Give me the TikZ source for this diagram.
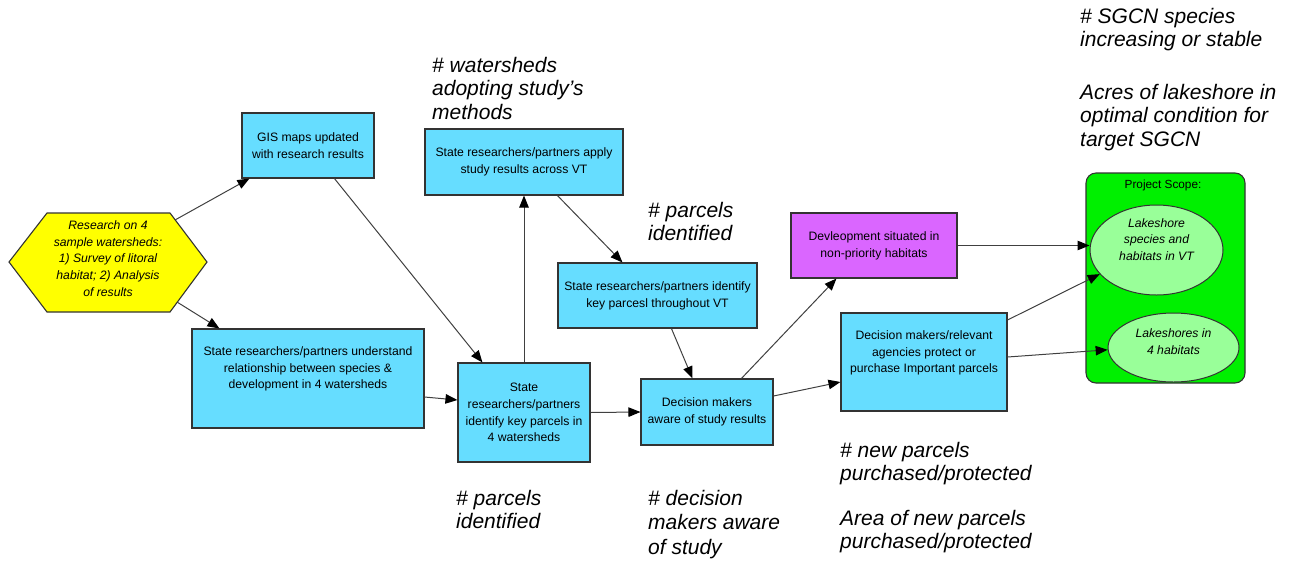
\documentclass[tikz,border=0pt]{standalone}
\usepackage{fontspec}
\setmainfont{Liberation Sans}
\usetikzlibrary{arrows.meta,shapes.geometric,calc}
\definecolor{boxblue}{HTML}{66DDFF}
\definecolor{boxpurple}{HTML}{DA66FF}
\definecolor{hexyellow}{HTML}{FFFF00}
\definecolor{scopegreen}{HTML}{00F000}
\definecolor{ellgreen}{HTML}{99FF99}
\definecolor{edgegray}{HTML}{333333}
\definecolor{linegray}{HTML}{404040}
\tikzset{
  boxfont/.style={font=\fontsize{12.2}{16.7}\selectfont},
  stdbox/.style={draw=edgegray, line width=1.1pt, fill=boxblue, inner sep=0pt, align=center, boxfont},
  purplebox/.style={stdbox, fill=boxpurple},
  ellnode/.style={ellipse, draw=edgegray, line width=1pt, fill=ellgreen, inner sep=0pt},
  inntext/.style={align=center, inner sep=0pt, boxfont},
  ittext/.style={align=center, inner sep=0pt, font=\fontsize{12.2}{16.7}\selectfont\itshape},
  metric/.style={align=left, anchor=north west, inner sep=0pt, font=\fontsize{21}{23.5}\selectfont\itshape},
  conn/.style={draw=linegray, line width=1pt, -{Triangle[length=12pt,width=9.5pt,color=black]}},
}
\begin{document}
\begin{tikzpicture}[x=1pt,y=-1pt]
\useasboundingbox (0,0) rectangle (1292,563);

% hexagon
\coordinate (hexL) at (9,262);
\coordinate (hexTL) at (47,213);
\coordinate (hexTR) at (170,213);
\coordinate (hexR) at (207,262);
\coordinate (hexBR) at (170,312);
\coordinate (hexBL) at (47,312);
\draw[draw=edgegray, line width=1.1pt, fill=hexyellow] (hexL) -- (hexTL) -- (hexTR) -- (hexR) -- (hexBR) -- (hexBL) -- cycle;
\node[ittext] (hex) at (108,258.5) {Research on 4\\sample watersheds:\\1) Survey of litoral\\habitat; 2) Analysis\\of results};
\coordinate (hexA) at (175,220);
\coordinate (hexB) at (177,302);

% boxes
\node[stdbox, minimum width=132pt, minimum height=65pt] (gis) at (308,145.5) {GIS maps updated\\with research results};
\node[stdbox, minimum width=198pt, minimum height=66pt] (apply) at (524,162) {State researchers/partners apply\\study results across VT};
\node[stdbox, minimum width=199pt, minimum height=65pt] (idvt) at (657.5,295.5) {State researchers/partners identify\\key parcesl throughout VT};
\node[stdbox, minimum width=132pt, minimum height=99pt] (idfour) at (524,412.5) {State\\researchers/partners\\identify key parcels in\\4 watersheds};
\node[stdbox, minimum width=132pt, minimum height=66pt] (aware) at (707,412) {Decision makers\\aware of study results};
\node[stdbox, minimum width=232pt, minimum height=99pt] (under) at (308,378.5) {};
\node[inntext] (underT) at (308,369) {State researchers/partners understand\\relationship between species \&\\development in 4 watersheds};
\node[purplebox, minimum width=166pt, minimum height=65pt] (purple) at (874,245.5) {Devleopment situated in\\non-priority habitats};
\node[stdbox, minimum width=166pt, minimum height=98pt] (protect) at (924,362) {};
\node[inntext] (protectT) at (924,353) {Decision makers/relevant\\agencies protect or\\purchase Important parcels};

% project scope
\node[draw=edgegray, line width=1.1pt, fill=scopegreen, rounded corners=10pt, minimum width=159pt, minimum height=210pt, inner sep=0pt] (scope) at (1165.5,278) {};
\node[inntext, font=\fontsize{11.8}{14}\selectfont] (scopeT) at (1163,185) {Project Scope:};
\node[ellnode, minimum width=133pt, minimum height=90pt] (eone) at (1156.5,250) {};
\node[ittext] (eoneT) at (1156.5,239.5) {Lakeshore\\species and\\habitats in VT};
\node[ellnode, minimum width=131pt, minimum height=69pt] (etwo) at (1173.5,347.5) {};
\node[ittext] (etwoT) at (1173.5,341.5) {Lakeshores in\\4 habitats};

% metric labels
\node[metric] (mWater) at (432,57) {\# watersheds\\adopting study’s\\methods};
\node[metric] (mParTop) at (648,202) {\# parcels\\identified};
\node[metric] (mSgcn) at (1080,8) {\# SGCN species\\increasing or stable\\[29pt]Acres of lakeshore in\\optimal condition for\\target SGCN};
\node[metric] (mParBot) at (456,490) {\# parcels\\identified};
\node[metric, font=\fontsize{21}{24.5}\selectfont\itshape] (mDec) at (648,490) {\# decision\\makers aware\\of study};
\node[metric, font=\fontsize{21}{23}\selectfont\itshape] (mNew) at (840,442) {\# new parcels\\purchased/protected\\[22pt]Area of new parcels\\purchased/protected};

% connectors
\draw[conn] (hexA) -- ([xshift=8pt]gis.south west);
\draw[conn] (hexB) -- ([xshift=28pt]under.north west);
\draw[conn] ([xshift=93pt]gis.south west) -- ([xshift=25pt]idfour.north west);
\draw[conn] ([yshift=-18.5pt]under.east) -- ([yshift=12.5pt]idfour.west);
\draw[conn] (idfour.north) -- (apply.south);
\draw[conn] ([xshift=133pt]apply.south west) -- ([xshift=65pt]idvt.north west);
\draw[conn] ([xshift=114pt]idvt.south west) -- ([xshift=52pt]aware.north west);
\draw[conn] (idfour.east) -- (aware.west);
\draw[conn] ([xshift=101pt]aware.north west) -- ([xshift=46pt]purple.south west);
\draw[conn] ([yshift=16pt]aware.east) -- ([yshift=-20pt]protect.west);
\draw[conn] (purple.east) -- (purple.east -| eone.west);
\draw[conn] ([yshift=42pt]protect.east) -- (eone.203);
\draw[conn] ([yshift=5pt]protect.east) -- (etwo.182);
\end{tikzpicture}
\end{document}
